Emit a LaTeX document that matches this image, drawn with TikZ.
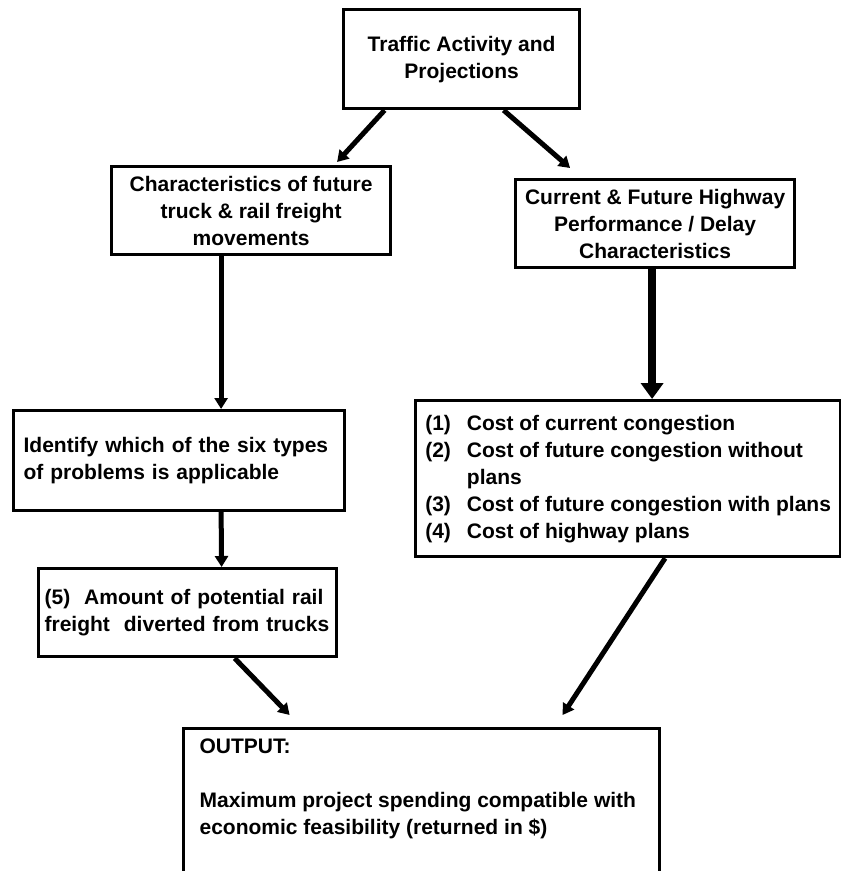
\documentclass[tikz,border=0pt]{standalone}
\usepackage{fontspec}
\setmainfont{Liberation Sans}
\usetikzlibrary{arrows.meta,positioning,calc}

\begin{document}
\begin{tikzpicture}[
    x=1pt, y=-1pt,
    box/.style={draw, line width=3.2pt, inner sep=6pt, anchor=north west, font=\fontsize{21}{27}\selectfont\bfseries},
    midbox/.style={box, align=center},
    leftbox/.style={box, align=left},
    arrow/.style={-{Triangle[width=13pt,length=11pt]}, line width=5pt},
    bigarrow/.style={-{Triangle[width=22pt,length=16pt]}, line width=7.5pt}
]
    \useasboundingbox (0,0) rectangle (841,871);

    \node[midbox, minimum width=236pt, minimum height=99pt] (traffic) at (342,8) {Traffic Activity and\\Projections};
    \node[midbox, minimum width=279pt, minimum height=88pt] (trucks) at (110,165) {Characteristics of future\\truck \& rail freight\\movements};
    \node[midbox, minimum width=279pt, minimum height=88pt] (highway) at (514,178) {Current \& Future Highway\\Performance / Delay\\Characteristics};

    \node[leftbox, text width=311pt, inner xsep=10pt, minimum height=100pt] (problems) at (12,409) {Identify which of the six types\\of problems is applicable};
    \node[leftbox, text width=286pt, minimum height=88pt] (rail) at (37,567) {(5)\ \ Amount of potential rail\\freight\ \ diverted from trucks};

    \node[box, minimum width=425pt, minimum height=156pt] (costs) at (414,399) {\begin{tabular}{@{}l@{\hspace{16pt}}l@{}}
        (1) & Cost of current congestion\\
        (2) & Cost of future congestion without\\
            & plans\\
        (3) & Cost of future congestion with plans\\
        (4) & Cost of highway plans
    \end{tabular}};

    \node[box, inner xsep=16pt, inner ysep=10pt] (output) at (182,727) {\parbox[t][170pt][t]{444pt}{\raggedright OUTPUT:\\[27pt]Maximum project spending compatible with\\economic feasibility (returned in \$)}};

    \draw[arrow] ([xshift=-77pt]traffic.south) -- ([xshift=86pt,yshift=3pt]trucks.north);
    \draw[arrow] ([xshift=42pt]traffic.south) -- ([xshift=-85pt,yshift=10pt]highway.north);
    \draw[arrow] ([xshift=-30pt]trucks.south) -- ([xshift=42pt]problems.north);
    \draw[arrow] ([xshift=42pt]problems.south) -- ([xshift=34pt]rail.north);
    \draw[bigarrow] ([xshift=-3pt]highway.south) -- ([xshift=24pt]costs.north);
    \draw[arrow] ([xshift=47pt]rail.south) -- ([xshift=-132pt,yshift=12pt]output.north);
    \draw[arrow] ([xshift=37pt]costs.south) -- ([xshift=141pt,yshift=12pt]output.north);
\end{tikzpicture}
\end{document}
